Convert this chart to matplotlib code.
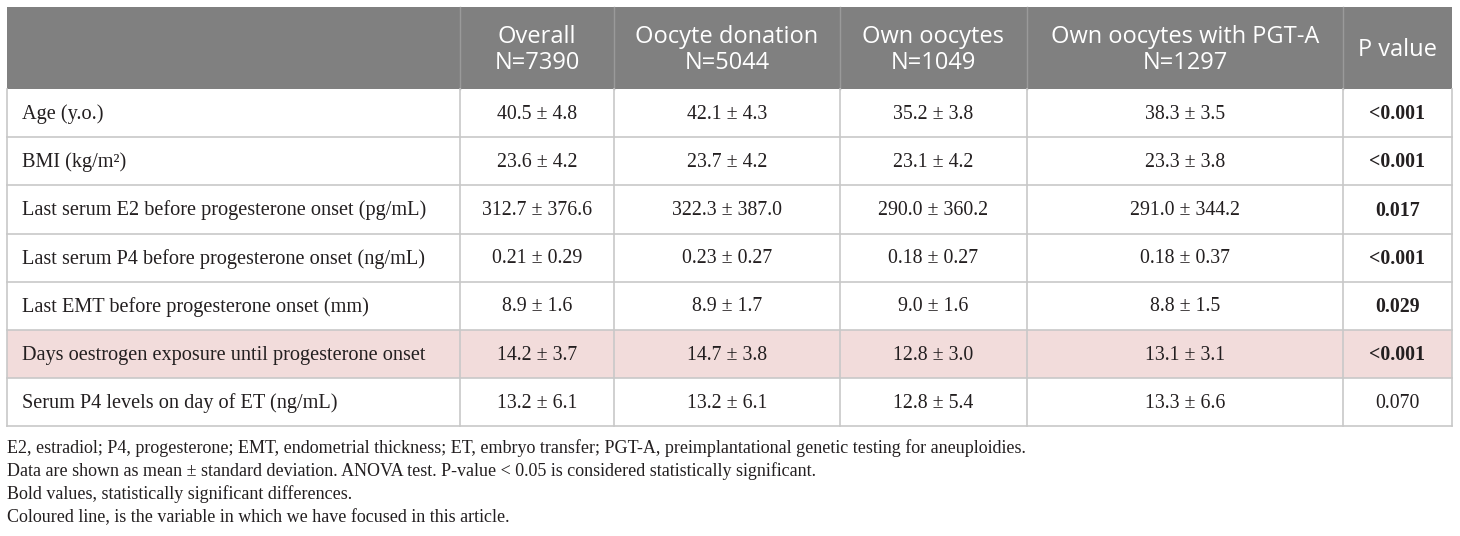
import matplotlib.pyplot as plt
from matplotlib.patches import Rectangle

# --- table content ----------------------------------------------------------
col_headers = ["", "Overall\nN=7390", "Oocyte donation\nN=5044", "Own oocytes\nN=1049",
               "Own oocytes with PGT-A\nN=1297", "P value"]
row_labels = [
    "Age (y.o.)",
    "BMI (kg/m\u00b2)",
    "Last serum E2 before progesterone onset (pg/mL)",
    "Last serum P4 before progesterone onset (ng/mL)",
    "Last EMT before progesterone onset (mm)",
    "Days oestrogen exposure until progesterone onset",
    "Serum P4 levels on day of ET (ng/mL)",
]
overall = ["40.5 \u00b1 4.8", "23.6 \u00b1 4.2", "312.7 \u00b1 376.6", "0.21 \u00b1 0.29",
           "8.9 \u00b1 1.6", "14.2 \u00b1 3.7", "13.2 \u00b1 6.1"]
donation = ["42.1 \u00b1 4.3", "23.7 \u00b1 4.2", "322.3 \u00b1 387.0", "0.23 \u00b1 0.27",
            "8.9 \u00b1 1.7", "14.7 \u00b1 3.8", "13.2 \u00b1 6.1"]
own = ["35.2 \u00b1 3.8", "23.1 \u00b1 4.2", "290.0 \u00b1 360.2", "0.18 \u00b1 0.27",
       "9.0 \u00b1 1.6", "12.8 \u00b1 3.0", "12.8 \u00b1 5.4"]
own_pgta = ["38.3 \u00b1 3.5", "23.3 \u00b1 3.8", "291.0 \u00b1 344.2", "0.18 \u00b1 0.37",
            "8.8 \u00b1 1.5", "13.1 \u00b1 3.1", "13.3 \u00b1 6.6"]
p_values = ["<0.001", "<0.001", "0.017", "<0.001", "0.029", "<0.001", "0.070"]
p_bold = [True, True, True, True, True, True, False]
highlight_row = 5
footnotes = [
    "E2, estradiol; P4, progesterone; EMT, endometrial thickness; ET, embryo transfer; "
    "PGT-A, preimplantational genetic testing for aneuploidies.",
    "Data are shown as mean \u00b1 standard deviation. ANOVA test. P-value < 0.05 is "
    "considered statistically significant.",
    "Bold values, statistically significant differences.",
    "Coloured line, is the variable in which we have focused in this article.",
]

# --- layout (pixel coordinates) --------------------------------------------
W, H = 1460, 536
col_x = [7, 460, 614, 840, 1027, 1343, 1452]
head_top, head_bot = 7, 89
row_h = 48.2
serif = ["Liberation Serif", "DejaVu Serif"]
sans = ["Open Sans", "DejaVu Sans"]
grid_c = "#c8c8c8"
ink = "#231f20"

fig = plt.figure(figsize=(W / 100, H / 100), dpi=100)
ax = fig.add_axes([0, 0, 1, 1])
ax.set_xlim(0, W)
ax.set_ylim(H, 0)
ax.axis("off")

# header
ax.add_patch(Rectangle((col_x[0], head_top), col_x[-1] - col_x[0], head_bot - head_top,
                       facecolor="#808080", edgecolor="none"))
for i in range(1, len(col_x) - 1):
    ax.plot([col_x[i], col_x[i]], [head_top, head_bot], color="#9a9a9a", lw=1)
for i, h in enumerate(col_headers):
    if not h:
        continue
    cx = (col_x[i] + col_x[i + 1]) / 2
    ax.text(cx, (head_top + head_bot) / 2 + 2, h, ha="center", va="center",
            color="white", fontsize=17, family=sans, linespacing=1.12)

# body
columns = [overall, donation, own, own_pgta]
n_rows = len(row_labels)
table_bot = head_bot + n_rows * row_h
for r in range(n_rows):
    y0 = head_bot + r * row_h
    yc = y0 + row_h / 2 + 1
    if r == highlight_row:
        ax.add_patch(Rectangle((col_x[0], y0), col_x[-1] - col_x[0], row_h,
                               facecolor="#f2dcdb", edgecolor="none"))
    ax.text(22, yc, row_labels[r], ha="left", va="center", fontsize=14.6,
            family=serif, color=ink)
    for c, vals in enumerate(columns):
        cx = (col_x[c + 1] + col_x[c + 2]) / 2
        ax.text(cx, yc, vals[r], ha="center", va="center", fontsize=14.3,
                family=serif, color=ink)
    cx = (col_x[5] + col_x[6]) / 2
    ax.text(cx, yc, p_values[r], ha="center", va="center", fontsize=14.3, family=serif,
            fontweight="bold" if p_bold[r] else "normal", color=ink)
    ax.plot([col_x[0], col_x[-1]], [y0 + row_h, y0 + row_h], color=grid_c, lw=1.2)

for x in col_x:
    ax.plot([x, x], [head_bot, table_bot], color=grid_c, lw=1.2)

# footnotes
for k, line in enumerate(footnotes):
    ax.text(7, 448 + k * 23.2, line, ha="left", va="center", fontsize=13,
            family=serif, color=ink)

fig.savefig("out.png", dpi=100)
